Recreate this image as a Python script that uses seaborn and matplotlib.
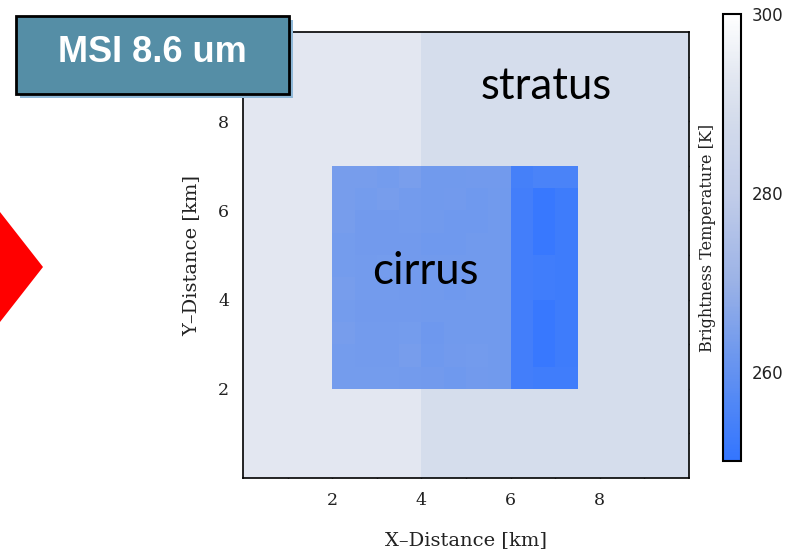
import numpy as np
import pandas as pd
import seaborn as sns
import matplotlib
matplotlib.use("Agg")
import matplotlib.pyplot as plt
from matplotlib.colors import LinearSegmentedColormap
from matplotlib.ticker import FixedLocator, FuncFormatter
from matplotlib.patches import Rectangle, Polygon

sns.set_theme(style="white")
plt.rcParams["font.family"] = ["DejaVu Serif", "DejaVu Sans"]

# ---- scene description -------------------------------------------------
cell_km = 0.5                 # grid spacing
domain_km = 10.0              # square domain size
stratus_split_km = 4.0        # boundary between the two stratus decks
stratus_bt_west = 293.0       # brightness temperature for x < 4 km [K]
stratus_bt_east = 288.5       # brightness temperature for x >= 4 km [K]
cirrus_x_km = (2.0, 7.5)
cirrus_y_km = (2.0, 7.0)
# cirrus brightness temperatures [K], rows listed from y = 7 km down to y = 2 km
cirrus_bt = [
    [263.5, 263.5, 263.2, 264.0, 262.6, 262.6, 262.8, 262.8, 254.0, 255.0, 255.0],
    [263.5, 263.2, 263.5, 263.0, 262.6, 262.8, 262.3, 262.6, 253.5, 251.0, 252.5],
    [263.5, 262.8, 262.8, 263.0, 262.6, 262.3, 262.3, 262.6, 253.5, 251.0, 252.5],
    [263.2, 262.8, 262.8, 262.8, 262.3, 262.3, 262.6, 262.6, 253.5, 251.0, 252.5],
    [263.2, 263.0, 263.2, 262.8, 262.6, 262.6, 262.6, 262.6, 253.5, 252.8, 252.5],
    [263.5, 263.0, 263.0, 262.8, 262.6, 262.3, 262.6, 262.6, 253.5, 252.8, 252.5],
    [263.2, 262.8, 262.8, 262.8, 262.6, 262.6, 262.6, 262.6, 253.5, 251.0, 252.5],
    [263.5, 263.0, 263.0, 263.2, 262.0, 262.6, 262.6, 262.6, 253.5, 251.0, 252.5],
    [263.2, 263.0, 263.0, 263.5, 262.3, 262.8, 263.0, 262.6, 253.5, 251.0, 252.5],
    [263.2, 263.2, 263.2, 263.0, 262.8, 262.3, 262.8, 262.6, 253.5, 252.8, 252.8],
]
bt_range = (250.0, 300.0)
cbar_major = [260, 280, 300]
cbar_minor = [270, 290]
axis_major_km = [2, 4, 6, 8]
axis_minor_km = [1, 3, 5, 7, 9]
cmap_stops = [250, 256, 262, 270, 280, 288, 293, 300]
cmap_colors = ["#3375ff", "#4f86f6", "#6e98ee", "#9bb2e6",
               "#c2cde9", "#d3dbeb", "#e2e7f1", "#ffffff"]

# ---- build the gridded field (rows = y ascending) ---------------------
n = int(round(domain_km / cell_km))
centers = (np.arange(n) + 0.5) * cell_km
field = np.where(centers[None, :] < stratus_split_km,
                 stratus_bt_west, stratus_bt_east) * np.ones((n, 1))
i0, i1 = int(cirrus_x_km[0] / cell_km), int(cirrus_x_km[1] / cell_km)
j0, j1 = int(cirrus_y_km[0] / cell_km), int(cirrus_y_km[1] / cell_km)
field[j0:j1, i0:i1] = np.array(cirrus_bt)[::-1]
df = pd.DataFrame(field, index=centers, columns=centers)

lo, hi = bt_range
cmap = LinearSegmentedColormap.from_list(
    "bt", [((s - lo) / (hi - lo), c) for s, c in zip(cmap_stops, cmap_colors)])

# ---- figure ------------------------------------------------------------
W, H = 795, 554
fig = plt.figure(figsize=(W / 100, H / 100), dpi=100)
fig.patch.set_facecolor("white")


def fx(px):
    return px / W


def fy(py):
    return 1 - py / H


ax = fig.add_axes([fx(243), fy(478), fx(689) - fx(243), fy(32) - fy(478)])
cax = fig.add_axes([fx(723), fy(461), fx(741) - fx(723), fy(14) - fy(461)])

sns.heatmap(df, ax=ax, cbar_ax=cax, cmap=cmap, vmin=lo, vmax=hi,
            xticklabels=False, yticklabels=False)
ax.invert_yaxis()

# axes in km: heatmap works in cell units
to_cell = 1.0 / cell_km
km_fmt = FuncFormatter(lambda v, p: f"{v * cell_km:g}")
for axis in (ax.xaxis, ax.yaxis):
    axis.set_major_locator(FixedLocator([t * to_cell for t in axis_major_km]))
    axis.set_minor_locator(FixedLocator([t * to_cell for t in axis_minor_km]))
    axis.set_major_formatter(km_fmt)

for s in ax.spines.values():
    s.set_visible(True)
    s.set_color("black")
    s.set_linewidth(1.2)
ax.tick_params(which="both", direction="in", bottom=True, top=True,
               left=True, right=True, color="black", width=1.0,
               labelsize=12.5, labelcolor="#222222")
ax.tick_params(which="major", length=7.5, pad=10)
ax.tick_params(which="minor", length=3.8)
plt.setp(ax.get_xticklabels(), rotation=0)
plt.setp(ax.get_yticklabels(), rotation=0)

ax.set_xlabel("X\u2013Distance [km]", fontsize=14, color="#222222")
ax.set_ylabel("Y\u2013Distance [km]", fontsize=14, color="#222222")
ax.xaxis.set_label_coords(0.5, (478 - 531) / 446)
ax.yaxis.set_label_coords((200 - 243) / 446, 0.5)

# colorbar
cbar = ax.collections[0].colorbar
cbar.set_ticks(cbar_major)
cax.yaxis.set_minor_locator(FixedLocator(cbar_minor))
cbar.outline.set_edgecolor("black")
cbar.outline.set_linewidth(1.5)
cax.tick_params(which="both", direction="in", left=True, right=True,
                length=4, width=1.0, color="#222222", labelsize=12,
                labelcolor="#222222", pad=8)
for t in cax.get_yticklabels():
    t.set_family("DejaVu Sans")
cax.yaxis.set_label_position("left")
cax.set_ylabel("Brightness Temperature [K]", fontsize=11.5, color="#222222")
cax.yaxis.set_label_coords((716 - 723) / 18, 0.5)

# cloud-type labels, placed in km
labels = {"stratus": (6.8, 8.77), "cirrus": (4.1, 4.64)}
for name, (xk, yk) in labels.items():
    ax.text(xk * to_cell, yk * to_cell, name, ha="center", va="center",
            fontsize=31.5, family="Lato", color="black")

# title box with drop shadow
fig.patches.append(Rectangle((fx(20), fy(98)), fx(293) - fx(20), fy(20) - fy(98),
                             transform=fig.transFigure, facecolor="#8fb8d8",
                             edgecolor="none", zorder=5))
fig.patches.append(Rectangle((fx(16), fy(94)), fx(289) - fx(16), fy(16) - fy(94),
                             transform=fig.transFigure, facecolor="#558ea6",
                             edgecolor="black", linewidth=2, zorder=6))
fig.text(fx(152), fy(53), "MSI 8.6 um", ha="center", va="center",
         fontsize=26, fontweight="bold", family="Liberation Sans",
         color="white", zorder=7)

# red pointer on the left edge
fig.patches.append(Polygon([(fx(0), fy(212)), (fx(43), fy(267)), (fx(0), fy(322))],
                           closed=True, transform=fig.transFigure,
                           facecolor="#ff0000", edgecolor="none", zorder=5))

fig.savefig("out.png", dpi=100, facecolor="white")
